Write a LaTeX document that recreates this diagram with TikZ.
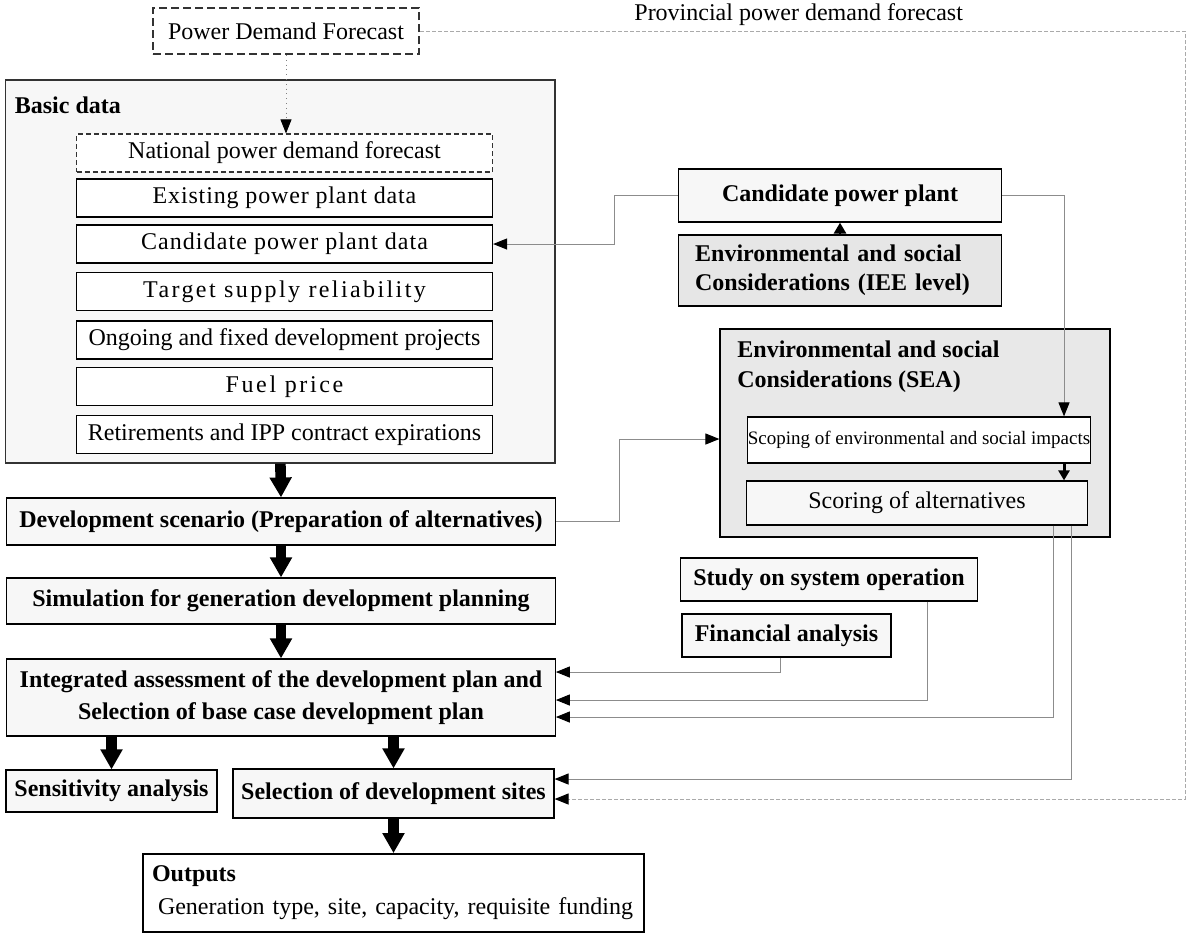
\documentclass[tikz,border=0pt]{standalone}
\usepackage{fontspec}
\setmainfont{Liberation Serif}
\usetikzlibrary{arrows.meta,calc}
\definecolor{boxgray}{HTML}{F7F7F7}
\definecolor{ieegray}{HTML}{E6E6E6}
\definecolor{seagray}{HTML}{E8E8E8}
\definecolor{linegray}{HTML}{8C8C8C}
\definecolor{dotgray}{HTML}{AAAAAA}
\definecolor{darkline}{HTML}{333333}
\newcommand{\bodyfont}{\fontsize{12}{14.5}\selectfont}

\begin{document}
\begin{tikzpicture}[x=0.5pt,y=-0.5pt,font=\bodyfont,
    box/.style={draw,line width=0.6pt,fill=boxgray,inner sep=0pt,align=center},
    boldbox/.style={box,font=\bodyfont\bfseries},
    databox/.style={draw,line width=0.6pt,fill=white,inner sep=0pt,minimum width=208pt,minimum height=19pt},
    bigarr/.style={line width=5.3pt,-{Triangle[length=10pt,width=10.5pt]}},
    tip/.style={-{Triangle[length=7pt,width=5.5pt,color=black]}},
    conn/.style={draw=linegray,line width=0.5pt,tip},
    provline/.style={draw=dotgray,line width=0.5pt,dash pattern=on 2pt off 1pt,tip}]
      \useasboundingbox (0,0) rectangle (1186,934);
      \node[draw=darkline,line width=1pt,dash pattern=on 4pt off 2pt,fill=white,inner sep=0pt,minimum width=133pt,minimum height=23pt] (pdf) at (286,31) {Power Demand Forecast};
      \node[anchor=west,inner sep=0pt] (prov) at (634,15) {Provincial power demand forecast};
      \node[box,draw=darkline,minimum width=274.65pt,minimum height=191.5pt] (basic) at (280.4,271.5) {};
      \node[anchor=west,inner sep=0pt,font=\bodyfont\bfseries] (basicT) at (14.5,105) {Basic data};
      \node[databox,draw=darkline,dash pattern=on 2.5pt off 1.5pt] (nat) at (284.5,153) {National power demand forecast};
      \node[databox] (exist) at (284.5,198) {\addfontfeature{LetterSpace=3.5}Existing power plant data};
      \node[databox] (cand) at (284.5,244) {\addfontfeature{LetterSpace=4.5}Candidate power plant data};
      \node[databox] (target) at (284.5,291.5) {\addfontfeature{LetterSpace=10}Target supply reliability};
      \node[databox] (ongoing) at (284.5,340) {Ongoing and fixed development projects};
      \node[databox] (fuel) at (284.5,386.5) {\addfontfeature{LetterSpace=11}Fuel price};
      \node[databox] (retire) at (284.5,434.5) {Retirements and IPP contract expirations};
      \node[boldbox,minimum width=274.75pt,minimum height=23.5pt] (dev) at (281,521.5) {Development scenario (Preparation of alternatives)};
      \node[boldbox,minimum width=274.75pt,minimum height=23pt] (sim) at (281,601) {Simulation for generation development planning};
      \node[boldbox,minimum width=274.25pt,minimum height=38.5pt,font=\fontsize{12}{16}\selectfont\bfseries] (integ) at (281,697.5) {Integrated assessment of the development plan and\\Selection of base case development plan};
      \node[boldbox,minimum width=105.5pt,minimum height=21pt] (sens) at (111.5,791) {Sensitivity analysis};
      \node[boldbox,minimum width=160.5pt,minimum height=24.5pt] (sites) at (393.5,793.5) {Selection of development sites};
      \node[box,fill=white,line width=0.9pt,minimum width=250.5pt,minimum height=39pt,text width=241.5pt,inner xsep=4.5pt,align=left,font=\fontsize{12}{16.5}\selectfont] (out) at (393.5,893) {\textbf{Outputs}\\\hspace*{3pt}Generation type, site, capacity, requisite funding};
      \node[boldbox,minimum width=161.75pt,minimum height=26.5pt] (cpp) at (840,195.5) {Candidate power plant};
      \node[boldbox,fill=ieegray,minimum width=161.25pt,minimum height=35.5pt,text width=144.85pt,inner xsep=8.2pt,align=left] (iee) at (840,270.5) {Environmental and social\\Considerations (IEE level)};
      \node[box,fill=seagray,minimum width=195pt,minimum height=104pt] (sea) at (915,433) {};
      \node[anchor=north west,align=left,inner sep=0pt,font=\fontsize{12}{15}\selectfont\bfseries] (seaT) at (737,340) {Environmental and social\\Considerations (SEA)};
      \node[box,fill=white,minimum width=171pt,minimum height=23pt,font=\fontsize{9.5}{11}\selectfont] (scop) at (919,440) {Scoping of environmental and social impacts};
      \node[box,minimum width=170.25pt,minimum height=22pt] (scor) at (917,503) {Scoring of alternatives};
      \node[boldbox,minimum width=148.75pt,minimum height=21.5pt] (study) at (829,579.5) {Study on system operation};
      \node[boldbox,minimum width=104.5pt,minimum height=21.5pt] (fin) at (786.5,635.5) {Financial analysis};
      \coordinate (provC) at (1185,799);
      \coordinate (plantC) at (614,244);
      \coordinate (devC) at (619,439);
      \draw[draw=gray,dotted,tip] (pdf.south) -- (pdf.south |- nat.north);
      \draw[provline] (pdf.east) -| (provC) -- (sites.east |- provC);
      \draw[conn] (cpp.west) -| (plantC) -- (cand.east);
      \draw[conn] (cpp.east) -| ([xshift=72.5pt]scop.north);
      \draw[line width=1.5pt,-{Triangle[length=5pt,width=5.5pt]}] ([xshift=72.5pt]scop.south) -- ([xshift=72.5pt]scop.south |- scor.north);
      \draw[line width=1.4pt,-{Triangle[length=5.5pt,width=6pt]}] (iee.north) -- (cpp.south);
      \draw[conn] (dev.east) -| (devC) -- (sea.west |- devC);
      \draw[conn] ([xshift=68pt]scor.south) |- ([yshift=-9.75pt]integ.east);
      \draw[conn] ([xshift=77pt]scor.south) |- ([yshift=7.25pt]sites.east);
      \draw[conn] ([xshift=49pt]study.south) |- ([yshift=-1.25pt]integ.east);
      \draw[conn] ([xshift=-3.25pt]fin.south) |- ([yshift=12.75pt]integ.east);
      \draw[bigarr] (basic.south) -- (dev.north);
      \draw[bigarr] (dev.south) -- (sim.north);
      \draw[bigarr] (sim.south) -- (integ.north);
      \draw[bigarr] (sens.north |- integ.south) -- (sens.north);
      \draw[bigarr] (sites.north |- integ.south) -- (sites.north);
      \draw[bigarr] (sites.south) -- (sites.south |- out.north);
    \end{tikzpicture}
\end{document}
